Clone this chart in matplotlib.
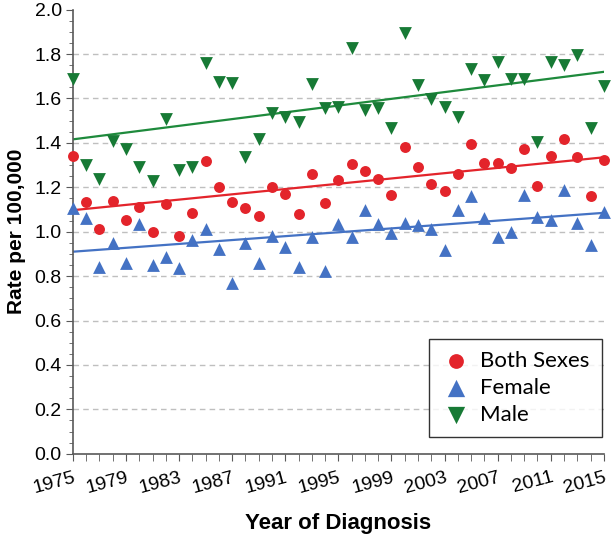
import matplotlib
matplotlib.use("Agg")
import matplotlib.pyplot as plt
from matplotlib.ticker import MultipleLocator

plt.rcParams['font.family'] = ['Liberation Sans', 'DejaVu Sans']

years = list(range(1975, 2016))

both_sexes = [1.34, 1.135, 1.012, 1.139, 1.055, 1.112, 1.00, 1.124, 0.98, 1.085,
              1.32, 1.202, 1.132, 1.105, 1.07, 1.202, 1.168, 1.082, 1.262, 1.13,
              1.234, 1.305, 1.275, 1.238, 1.165, 1.383, 1.292, 1.213, 1.184, 1.26,
              1.395, 1.308, 1.308, 1.288, 1.372, 1.207, 1.342, 1.417, 1.335, 1.162,
              1.322]

female = [1.105, 1.064, 0.842, 0.947, 0.857, 1.034, 0.85, 0.887, 0.838, 0.962,
          1.01, 0.92, 0.767, 0.95, 0.857, 0.98, 0.932, 0.842, 0.974, 0.824,
          1.036, 0.974, 1.097, 1.034, 0.992, 1.037, 1.03, 1.012, 0.917, 1.10,
          1.16, 1.06, 0.974, 1.00, 1.165, 1.067, 1.055, 1.187, 1.04, 0.94,
          1.087]

male = [1.69, 1.30, 1.237, 1.408, 1.372, 1.292, 1.228, 1.506, 1.277, 1.292,
        1.758, 1.675, 1.668, 1.338, 1.416, 1.533, 1.515, 1.495, 1.665, 1.555,
        1.563, 1.826, 1.548, 1.558, 1.465, 1.896, 1.66, 1.597, 1.56, 1.515,
        1.735, 1.683, 1.765, 1.69, 1.686, 1.405, 1.765, 1.75, 1.795, 1.465,
        1.656]

# fitted trend lines (start / end of modelled rate)
trend_years = [1975, 2015]
both_trend = [1.097, 1.335]
female_trend = [0.91, 1.085]
male_trend = [1.416, 1.72]

tick_years = list(range(1975, 2016, 4))

red = '#E3242B'
blue = '#4472C4'
green = '#177A35'

fig = plt.figure(figsize=(6.13, 5.37), dpi=100)
ax = fig.add_axes([0.119, 0.155, 0.866, 0.827])

ax.plot(trend_years, male_trend, color='#1E8A3C', lw=1.6, zorder=2)
ax.plot(trend_years, both_trend, color=red, lw=1.6, zorder=2)
ax.plot(trend_years, female_trend, color=blue, lw=1.6, zorder=2)

ax.scatter(years, both_sexes, marker='o', s=62, color=red, lw=0, label='Both Sexes', zorder=3, clip_on=False)
ax.scatter(years, female, marker='^', s=85, color=blue, lw=0, label='Female', zorder=3, clip_on=False)
ax.scatter(years, male, marker='v', s=85, color=green, lw=0, label='Male', zorder=3, clip_on=False)

ax.set_xlim(1975, 2015)
ax.set_ylim(0, 2.0)
ax.set_xticks(tick_years)
ax.set_xticklabels([str(y) for y in tick_years], rotation=15, ha='right',
                   rotation_mode='anchor', fontsize=14)
ax.xaxis.set_minor_locator(MultipleLocator(1))
ax.yaxis.set_major_locator(MultipleLocator(0.2))
ax.yaxis.set_minor_locator(MultipleLocator(0.05))
ax.set_yticklabels([f'{v:.1f}' for v in ax.get_yticks()], fontsize=14)

for v in [0.2, 0.4, 0.6, 0.8, 1.0, 1.2, 1.4, 1.6, 1.8]:
    ax.axhline(v, color='#BFBFBF', lw=1, ls=(0, (4, 3)), zorder=1)

for s in ['top', 'right']:
    ax.spines[s].set_visible(False)
for s in ['left', 'bottom']:
    ax.spines[s].set_color('#595959')
    ax.spines[s].set_linewidth(1.2)
ax.tick_params(axis='both', which='both', color='#595959', direction='out')
ax.tick_params(axis='x', which='both', length=5, pad=6)
ax.tick_params(axis='y', which='major', length=5, pad=3)
ax.tick_params(axis='y', which='minor', length=3)

ax.set_xlabel('Year of Diagnosis', fontsize=16, fontweight='bold', labelpad=12)
ax.set_ylabel('Rate per 100,000', fontsize=15, fontweight='bold', labelpad=6)

leg = ax.legend(loc='lower right', bbox_to_anchor=(0.996, 0.037), borderaxespad=0,
                frameon=True, fancybox=False, edgecolor='black',
                handletextpad=0.45, labelspacing=0.32, borderpad=0.55,
                handlelength=1.3, markerscale=1.35,
                prop={'family': ['Lato', 'DejaVu Sans'], 'size': 16})
leg.get_frame().set_linewidth(1.0)

fig.savefig('out.png', dpi=100)
